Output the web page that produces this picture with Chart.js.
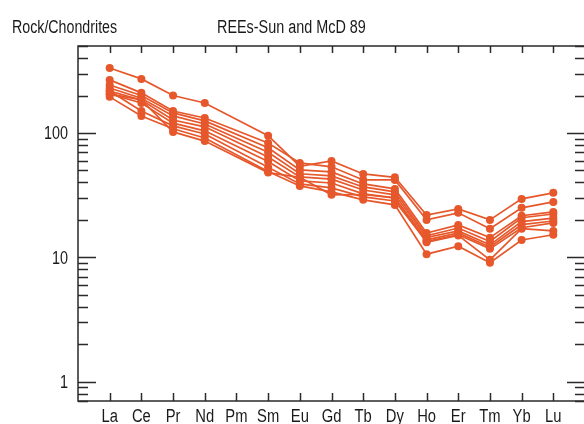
<!DOCTYPE html>
<html>
<head>
<meta charset="utf-8">
<script src="https://cdn.jsdelivr.net/npm/chart.js@4.4.1/dist/chart.umd.min.js"></script>
<style>
  html, body { margin: 0; padding: 0; background: #fff; overflow: hidden; }
  #wrap { width: 589px; height: 424px; }
</style>
</head>
<body>
<div id="wrap"><canvas id="c" width="589" height="424"></canvas></div>
<script>
// ---- data ----
const elements = ['La','Ce','Pr','Nd','Pm','Sm','Eu','Gd','Tb','Dy','Ho','Er','Tm','Yb','Lu'];
const xLabels = ['', ...elements, ''];
const yTickValues = [1, 10, 100];

const s1 = [333, 272, 200, 174, null, 95, 54, 59.6, 46.8, 44, 21.9, 24.5, 20.0, 29.5, 33.0];
const s2 = [267, 210, 150, 132, null, 83, 57.4, 53.4, 41.9, 41.9, 20.0, 22.8, 17.0, 25.0, 27.9];
const s3 = [243, 200, 145, 125, null, 76, 50.4, 48.6, 38.9, 35.5, 15.7, 18.2, 14.4, 21.6, 23.2];
const s4 = [230, 190, 137, 118, null, 70, 47, 45.1, 36.8, 33.6, 14.9, 17.2, 13.4, 20.8, 22.3];
const s5 = [217, 184, 127, 112, null, 64, 44.3, 42.5, 34.8, 31.8, 14.4, 16.3, 12.6, 19.4, 20.7];
const s6 = [206, 174, 120, 104, null, 59, 41.2, 39.6, 32.4, 30.1, 13.8, 15.7, 12.1, 18.3, 19.6];
const s7 = [217, 150, 114, 98, null, 53, 38.9, 36.2, 30.6, 28.4, 13.4, 15.2, 11.7, 17.3, 18.9];
const s8 = [195, 137, 108, 91, null, 49, 37.5, 33.6, 29.0, 26.4, 10.6, 12.3, 9.04, 13.8, 15.2];
const s9 = [206, 184, 102, 86, null, 48, 44, 31.8, 32, 30, 13.2, 15.0, 9.55, 17.0, 16.3];
const allSeries = [s1, s2, s3, s4, s5, s6, s7, s8, s9];

const leftTitle = 'Rock/Chondrites';
const centerTitle = 'REEs-Sun and McD 89';

// ---- styling ----
const ORANGE = '#e6572b';
const AXIS = '#2a2a2a';
const TEXT = '#1a1a1a';
const FONT = '"Liberation Sans", Arial, sans-serif';

const datasets = allSeries.map((s, i) => ({
  label: 'S' + (i + 1),
  data: [null, ...s, null],
  borderColor: ORANGE,
  backgroundColor: ORANGE,
  borderWidth: 1.7,
  pointRadius: 4,
  pointHoverRadius: 4,
  pointBorderWidth: 0,
  spanGaps: true,
  tension: 0
}));

function squeezedText(ctx, text, x, y, align, scaleX) {
  ctx.save();
  ctx.translate(x, y);
  ctx.scale(scaleX, 1);
  ctx.textAlign = align;
  ctx.fillText(text, 0, 0);
  ctx.restore();
}

const framePlugin = {
  id: 'frame',
  afterDraw(chart) {
    const { ctx, chartArea: a, scales: { x, y } } = chart;
    ctx.save();
    ctx.strokeStyle = AXIS;
    ctx.lineWidth = 1.5;
    ctx.strokeRect(a.left, a.top, a.right - a.left, a.bottom - a.top);
    ctx.beginPath();
    for (let i = 1; i <= elements.length; i++) {
      const px = Math.round(x.getPixelForValue(i)) + 0.5;
      ctx.moveTo(px, a.top); ctx.lineTo(px, a.top + 7);
      ctx.moveTo(px, a.bottom); ctx.lineTo(px, a.bottom - 8);
    }
    for (let k = -1; k <= 2; k++) {
      for (let m = 1; m <= 9; m++) {
        const v = m * Math.pow(10, k);
        if (v < y.min || v > y.max) continue;
        const py = Math.round(y.getPixelForValue(v)) + 0.5;
        const len = m === 1 ? 18 : 10;
        ctx.moveTo(a.left, py); ctx.lineTo(a.left + len, py);
        ctx.moveTo(a.right, py); ctx.lineTo(a.right - len, py);
      }
    }
    ctx.stroke();

    // text (slightly condensed like the reference)
    ctx.fillStyle = TEXT;
    ctx.font = '18px ' + FONT;
    ctx.textBaseline = 'alphabetic';
    squeezedText(ctx, leftTitle, 12, 33, 'left', 0.79);
    squeezedText(ctx, centerTitle, 217, 33, 'left', 0.8);

    // category labels, placed with the x scale
    x.ticks.forEach((t, i) => {
      const lbl = xLabels[i];
      if (!lbl) return;
      squeezedText(ctx, lbl, x.getPixelForValue(i), a.bottom + 21, 'center', 0.82);
    });
    // y labels, placed with the log scale
    y.ticks.forEach(t => {
      squeezedText(ctx, String(t.value), a.left - 10, y.getPixelForValue(t.value) + 6.5, 'right', 0.8);
    });
    ctx.restore();
  }
};

new Chart(document.getElementById('c'), {
  type: 'line',
  data: { labels: xLabels, datasets },
  options: {
    responsive: false,
    animation: false,
    layout: { padding: { top: 46, right: 1, left: 0, bottom: 0 } },
    plugins: { legend: { display: false }, tooltip: { enabled: false }, title: { display: false } },
    scales: {
      x: {
        type: 'category',
        offset: false,
        afterFit: s => { s.height = 23; },
        grid: { drawOnChartArea: false, drawTicks: false },
        border: { display: false },
        ticks: { display: false, autoSkip: false, maxRotation: 0, minRotation: 0 }
      },
      y: {
        type: 'logarithmic',
        min: 0.705,
        max: 500,
        afterFit: s => { s.width = 78; },
        afterBuildTicks: s => { s.ticks = yTickValues.map(v => ({ value: v })); },
        grid: { drawOnChartArea: false, drawTicks: false },
        border: { display: false },
        ticks: { display: false }
      }
    }
  },
  plugins: [framePlugin]
});
</script>
</body>
</html>
